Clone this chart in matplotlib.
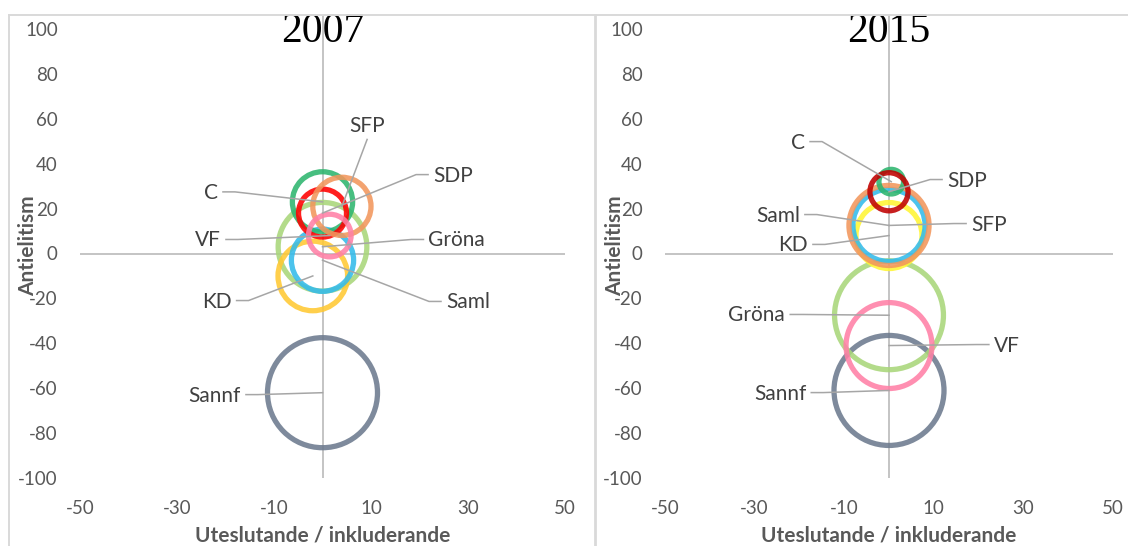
import matplotlib.pyplot as plt
from matplotlib.lines import Line2D

# --- 2007 data (bubble position + bubble size) ---
parties_2007 = ["Sannf", "Gröna", "KD", "Saml", "C", "SDP", "SFP", "VF"]
x_2007 = [0, 0, -2, 0, 0, 0, 4, 1.5]
y_2007 = [-62, 3, -10, -3, 23, 18, 21, 8]
size_2007 = [100, 65, 40, 32, 30, 19, 28, 15]
colors_2007 = ["#6C7A8E", "#A9D67A", "#FFC933", "#33BBEA",
               "#2DB56E", "#FF0000", "#F2965C", "#FF80A6"]

# --- 2015 data ---
parties_2015 = ["Sannf", "Gröna", "VF", "KD", "Saml", "SFP", "C", "SDP"]
x_2015 = [0, 0, 0, 0, 0, 0, 0.5, 0]
y_2015 = [-61, -27.5, -41, 8, 12.5, 12.5, 32, 27.5]
size_2015 = [100, 98, 61, 36, 43, 53, 5, 12]
colors_2015 = ["#6C7A8E", "#A9D67A", "#FF80A6", "#FFF533",
               "#33BBEA", "#F2965C", "#2DB56E", "#C00000"]

x_ticks = list(range(-50, 51, 20))
y_ticks = list(range(-100, 101, 20))

# label placement (layout only): text centre in data units + side of leader
labels_2007 = {
    "SFP": (9.2, 56.6, "above"),
    "SDP": (26.9, 34.7, "right"),
    "C": (-23, 27, "left"),
    "VF": (-23.6, 5.8, "left"),
    "Gröna": (27.7, 5.8, "right"),
    "Saml": (30, -21.8, "right"),
    "KD": (-21.8, -21.4, "left"),
    "Sannf": (-22.2, -63.3, "left"),
}
labels_2015 = {
    "C": (-20.3, 49.4, "left"),
    "SDP": (17.4, 32.5, "right"),
    "Saml": (-24.8, 16.9, "left"),
    "SFP": (22.3, 12.9, "right"),
    "KD": (-21.4, 3.6, "left"),
    "Gröna": (-29.5, -27.6, "left"),
    "VF": (26.3, -41, "right"),
    "Sannf": (-24.3, -62.4, "left"),
}

plt.rcParams["font.family"] = ["Lato", "DejaVu Sans"]
plt.rcParams["axes.unicode_minus"] = False

W, H = 1128, 546
fig = plt.figure(figsize=(W / 100, H / 100), dpi=100)

# largest bubble ~110 px across
BUBBLE_SCALE = (110 * 72 / 100) ** 2 / 100
GRID = "#BFBFBF"
TXT = "#595959"


def panel(left_px, right_px, title, parties, xs, ys, sizes, colors, labels, ylab_x):
    top_px, bottom_px = 15, 478
    ax = fig.add_axes([left_px / W, 1 - bottom_px / H,
                       (right_px - left_px) / W, (bottom_px - top_px) / H])
    ax.set_xlim(-50, 50)
    ax.set_ylim(-100, 100 + (29 - top_px) / 2.245)
    for s in ax.spines.values():
        s.set_visible(False)
    ax.axhline(0, color=GRID, lw=1.3, zorder=1)
    ax.axvline(0, ymax=1, color=GRID, lw=1.3, zorder=1)
    ax.set_xticks(x_ticks)
    ax.set_yticks(y_ticks)
    ax.tick_params(length=0, pad=16, labelsize=13.5, labelcolor=TXT)

    for i in range(len(parties)):
        ax.scatter(xs[i], ys[i], s=sizes[i] * BUBBLE_SCALE, facecolors="none",
                   edgecolors=colors[i], linewidths=3.8, alpha=0.88, zorder=2 + i * 0.1)

    ax.set_xlabel("Uteslutande / inkluderande", fontsize=15, fontweight="bold", color=TXT)
    ax.xaxis.set_label_coords(0.5, -0.103)
    fig.text(ylab_x / W, 1 - 246 / H, "Antielitism", rotation=90, ha="center", va="center",
             fontsize=15, fontweight="bold", color=TXT)
    ax.text(0.5, (bottom_px - 32) / (bottom_px - top_px), title, transform=ax.transAxes,
            ha="center", va="center", fontsize=30, family="Liberation Serif", color="black",
            zorder=10)

    texts = {}
    for p, (lx, ly, side) in labels.items():
        texts[p] = ax.text(lx, ly, p, ha="center", va="center", fontsize=15,
                           color="#404040", zorder=8)
    return ax, texts


ax1, t1 = panel(80, 565, "2007", parties_2007, x_2007, y_2007, size_2007,
                colors_2007, labels_2007, 28)
ax2, t2 = panel(665, 1113, "2015", parties_2015, x_2015, y_2015, size_2015,
                colors_2015, labels_2015, 615)

# leader lines from label to bubble centre
fig.canvas.draw()
renderer = fig.canvas.get_renderer()
for ax, texts, labels, parties, xs, ys in [
        (ax1, t1, labels_2007, parties_2007, x_2007, y_2007),
        (ax2, t2, labels_2015, parties_2015, x_2015, y_2015)]:
    inv = ax.transData.inverted()
    for p, t in texts.items():
        side = labels[p][2]
        i = parties.index(p)
        end = ax.transData.transform((xs[i], ys[i]))
        bb = t.get_window_extent(renderer)
        cy = (bb.y0 + bb.y1) / 2 + 1
        if side == "left":
            pts = [(bb.x1 + 5, cy), (bb.x1 + 17, cy), tuple(end)]
        elif side == "right":
            pts = [(bb.x0 - 5, cy), (bb.x0 - 17, cy), tuple(end)]
        else:
            pts = [((bb.x0 + bb.x1) / 2, bb.y0 - 3), tuple(end)]
        d = inv.transform(pts)
        ax.plot(d[:, 0], d[:, 1], color="#A6A6A6", lw=1.1, zorder=6, clip_on=False)

# chart borders
bc = "#D9D9D9"
fig.add_artist(Line2D([9 / W, 1], [1 - 15 / H] * 2, color=bc, lw=1.4))
fig.add_artist(Line2D([9 / W] * 2, [0, 1 - 15 / H], color=bc, lw=1.4))
fig.add_artist(Line2D([595 / W] * 2, [0, 1 - 15 / H], color=bc, lw=2))

fig.savefig("out.png", dpi=100)
